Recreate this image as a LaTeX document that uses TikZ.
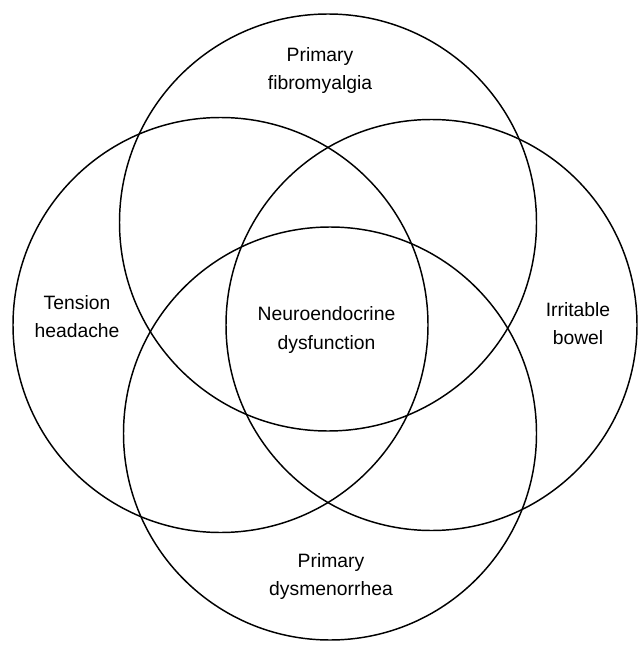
\documentclass[tikz,border=0pt]{standalone}
\usepackage{fontspec}
\setmainfont{Liberation Sans}

\tikzset{every picture/.style={line width=1.1pt}}
\tikzset{label text/.style={align=center, inner sep=0.75pt, font=\fontsize{14.5}{21}\selectfont}}

\begin{document}
\begin{tikzpicture}[x=0.75pt,y=0.75pt,yscale=-1,xscale=1]
\useasboundingbox (0,0) rectangle (640,645);

%Shape: Circle [top]
\draw   (328,222.5) circle (208.5) ;
%Shape: Circle [left]
\draw   (220.5,325) circle (207.5) ;
%Shape: Circle [right]
\draw   (431.5,325) circle (205.5) ;
%Shape: Circle [bottom]
\draw   (330,433.5) circle (206.5) ;

% Text Node
\node [label text] (fibro) at (320,71) {Primary\\fibromyalgia};
% Text Node
\node [label text] (tension) at (77,317) {Tension\\headache};
% Text Node
\node [label text] (bowel) at (578,324) {Irritable\\bowel};
% Text Node
\node [label text] (neuro) at (326.5,330) {Neuroendocrine\\dysfunction};
% Text Node
\node [label text] (dysmen) at (331,576) {Primary\\dysmenorrhea};

\end{tikzpicture}
\end{document}
